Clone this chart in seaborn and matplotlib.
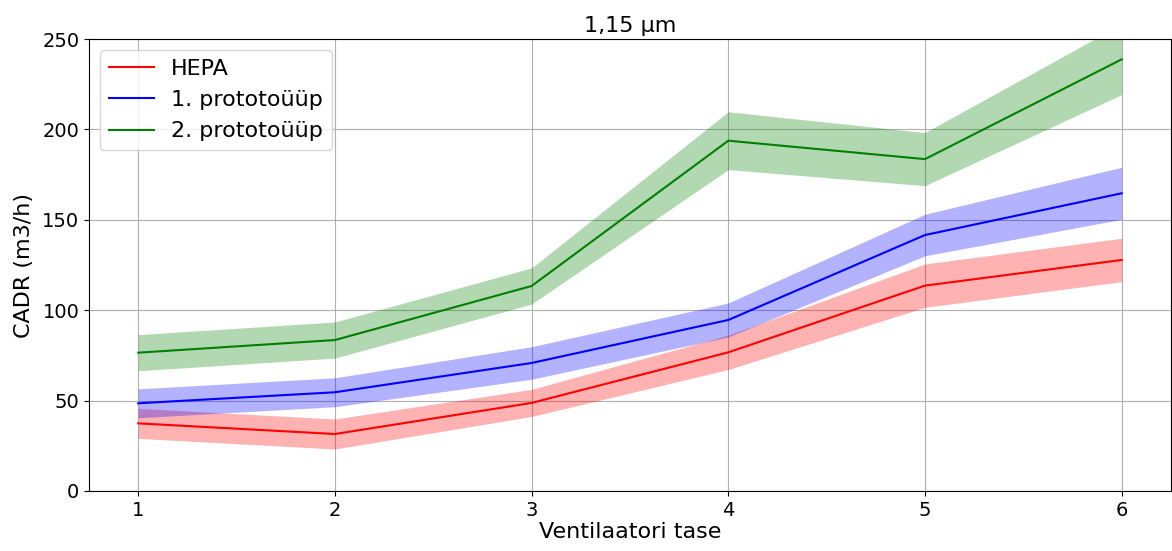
import matplotlib
matplotlib.use("Agg")
import matplotlib.pyplot as plt
import numpy as np
import pandas as pd
import seaborn as sns

# Fan level vs. clean air delivery rate for 1.15 µm particles
levels = [1, 2, 3, 4, 5, 6]

hepa_mean = [37.4, 31.5, 48.7, 76.7, 113.6, 127.8]
hepa_err = [8.3, 8.3, 7.5, 9.5, 12.0, 12.0]

proto1_mean = [48.5, 54.6, 70.8, 94.6, 141.6, 164.7]
proto1_err = [8.0, 8.0, 9.0, 9.4, 11.5, 14.4]

proto2_mean = [76.5, 83.5, 113.4, 193.8, 183.6, 238.8]
proto2_err = [10.0, 10.0, 10.0, 16.0, 14.7, 19.5]

series_names = ["HEPA", "1. prototoüüp", "2. prototoüüp"]
series_colors = ["red", "blue", "green"]

plt.rcParams["font.size"] = 14

rows = []
for name, means, errs in zip(series_names,
                             [hepa_mean, proto1_mean, proto2_mean],
                             [hepa_err, proto1_err, proto2_err]):
    for lv, m, e in zip(levels, means, errs):
        rows.append({"tase": lv, "CADR": m, "err": e, "seeria": name})
df = pd.DataFrame(rows)

fig, ax = plt.subplots(figsize=(11.72, 5.51), dpi=100)
fig.subplots_adjust(left=0.076, right=0.999, top=0.929, bottom=0.109)

sns.lineplot(data=df, x="tase", y="CADR", hue="seeria",
             palette=dict(zip(series_names, series_colors)),
             errorbar=None, ax=ax, linewidth=1.5)

for name, color in zip(series_names, series_colors):
    sub = df[df["seeria"] == name]
    ax.fill_between(sub["tase"], sub["CADR"] - sub["err"], sub["CADR"] + sub["err"],
                    color=color, alpha=0.3, linewidth=0)

ax.set_ylim(0, 250)
ax.set_xticks(levels)
ax.tick_params(labelsize=14)
ax.grid(True, color="#b0b0b0", linewidth=0.8)
ax.set_axisbelow(True)
ax.set_xlabel("Ventilaatori tase", fontsize=16, labelpad=2)
ax.set_ylabel("CADR (m3/h)", fontsize=16, labelpad=6)
ax.set_title("1,15 µm", fontsize=16, pad=5)
ax.legend(loc="upper left", fontsize=16)

fig.savefig("out.png", dpi=100)
